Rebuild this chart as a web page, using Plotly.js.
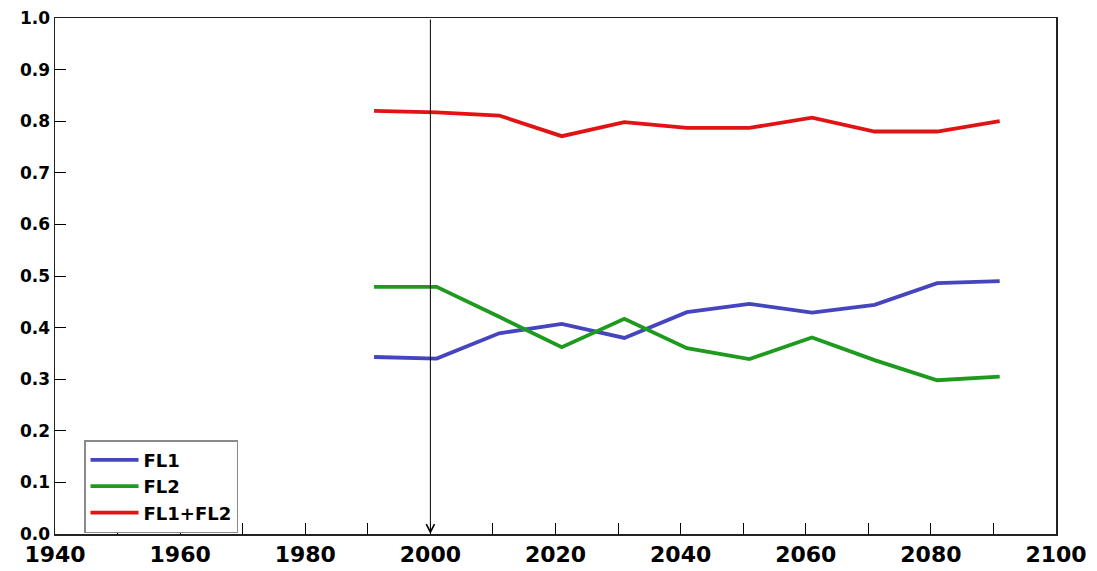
<!DOCTYPE html>
<html>
<head>
<meta charset="utf-8">
<script src="https://cdn.plot.ly/plotly-3.0.1.min.js"></script>
<style>html,body{margin:0;padding:0;background:#fff;}#chart{width:1097px;height:571px;}</style>
</head>
<body>
<div id="chart"></div>
<script>
var years = [1991, 2001, 2011, 2021, 2031, 2041, 2051, 2061, 2071, 2081, 2091];
var fl1 = [0.343, 0.340, 0.389, 0.407, 0.380, 0.430, 0.446, 0.429, 0.444, 0.486, 0.490];
var fl2 = [0.479, 0.479, 0.421, 0.362, 0.417, 0.360, 0.339, 0.381, 0.337, 0.298, 0.305];
var fl12 = [0.820, 0.817, 0.811, 0.771, 0.798, 0.787, 0.787, 0.807, 0.780, 0.780, 0.800];
var seriesNames = ['FL1', 'FL2', 'FL1+FL2'];
var xTicks = [1940, 1960, 1980, 2000, 2020, 2040, 2060, 2080, 2100];
var yTicks = [0.0, 0.1, 0.2, 0.3, 0.4, 0.5, 0.6, 0.7, 0.8, 0.9, 1.0];
var markerYear = 2000;

var colors = ['#4545c0', '#1e9a1e', '#e01414'];
var vals = [fl1, fl2, fl12];
var traces = vals.map(function (v, i) {
  return {x: years, y: v, type: 'scatter', mode: 'lines', name: seriesNames[i],
          line: {color: colors[i], width: 3.8}};
});

var fam = 'DejaVu Sans, Arial, sans-serif';
var layout = {
  width: 1097, height: 571,
  margin: {l: 55, r: 41, t: 18, b: 37},
  paper_bgcolor: '#fff', plot_bgcolor: '#fff',
  showlegend: true,
  legend: {x: 0.029, y: 0.182, xanchor: 'left', yanchor: 'top',
           bgcolor: '#fff', bordercolor: '#8a8a8a', borderwidth: 1.5,
           font: {family: fam, size: 18, color: '#000', weight: 'bold'},
           itemwidth: 48, tracegroupgap: 0},
  xaxis: {range: [1940, 2100], tickvals: xTicks, ticktext: xTicks.map(String),
          ticks: 'inside', ticklen: 11, tickcolor: '#000', tickwidth: 1,
          minor: {dtick: 10, ticks: 'inside', ticklen: 11, tickcolor: '#000', tickwidth: 1},
          showgrid: false, zeroline: false, showline: true, linecolor: '#222', linewidth: 1.5, mirror: true,
          tickfont: {family: fam, size: 22, color: '#000', weight: 'bold'}},
  yaxis: {range: [0, 1], tickvals: yTicks, ticktext: yTicks.map(function (v) { return v.toFixed(1); }),
          ticks: 'inside', ticklen: 11, tickcolor: '#000', tickwidth: 1,
          showgrid: false, zeroline: false, showline: true, linecolor: '#222', linewidth: 1.5, mirror: true,
          tickfont: {family: fam, size: 17, color: '#000', weight: 'bold'}},
  annotations: [{x: markerYear, y: 0, xref: 'x', yref: 'y', ax: markerYear, ay: 1, axref: 'x', ayref: 'y',
                 text: '', showarrow: true, arrowhead: 5, arrowsize: 1.6, arrowwidth: 1, arrowcolor: '#000'}]
};
Plotly.newPlot('chart', traces, layout, {displayModeBar: false, staticPlot: true});
</script>
</body>
</html>
